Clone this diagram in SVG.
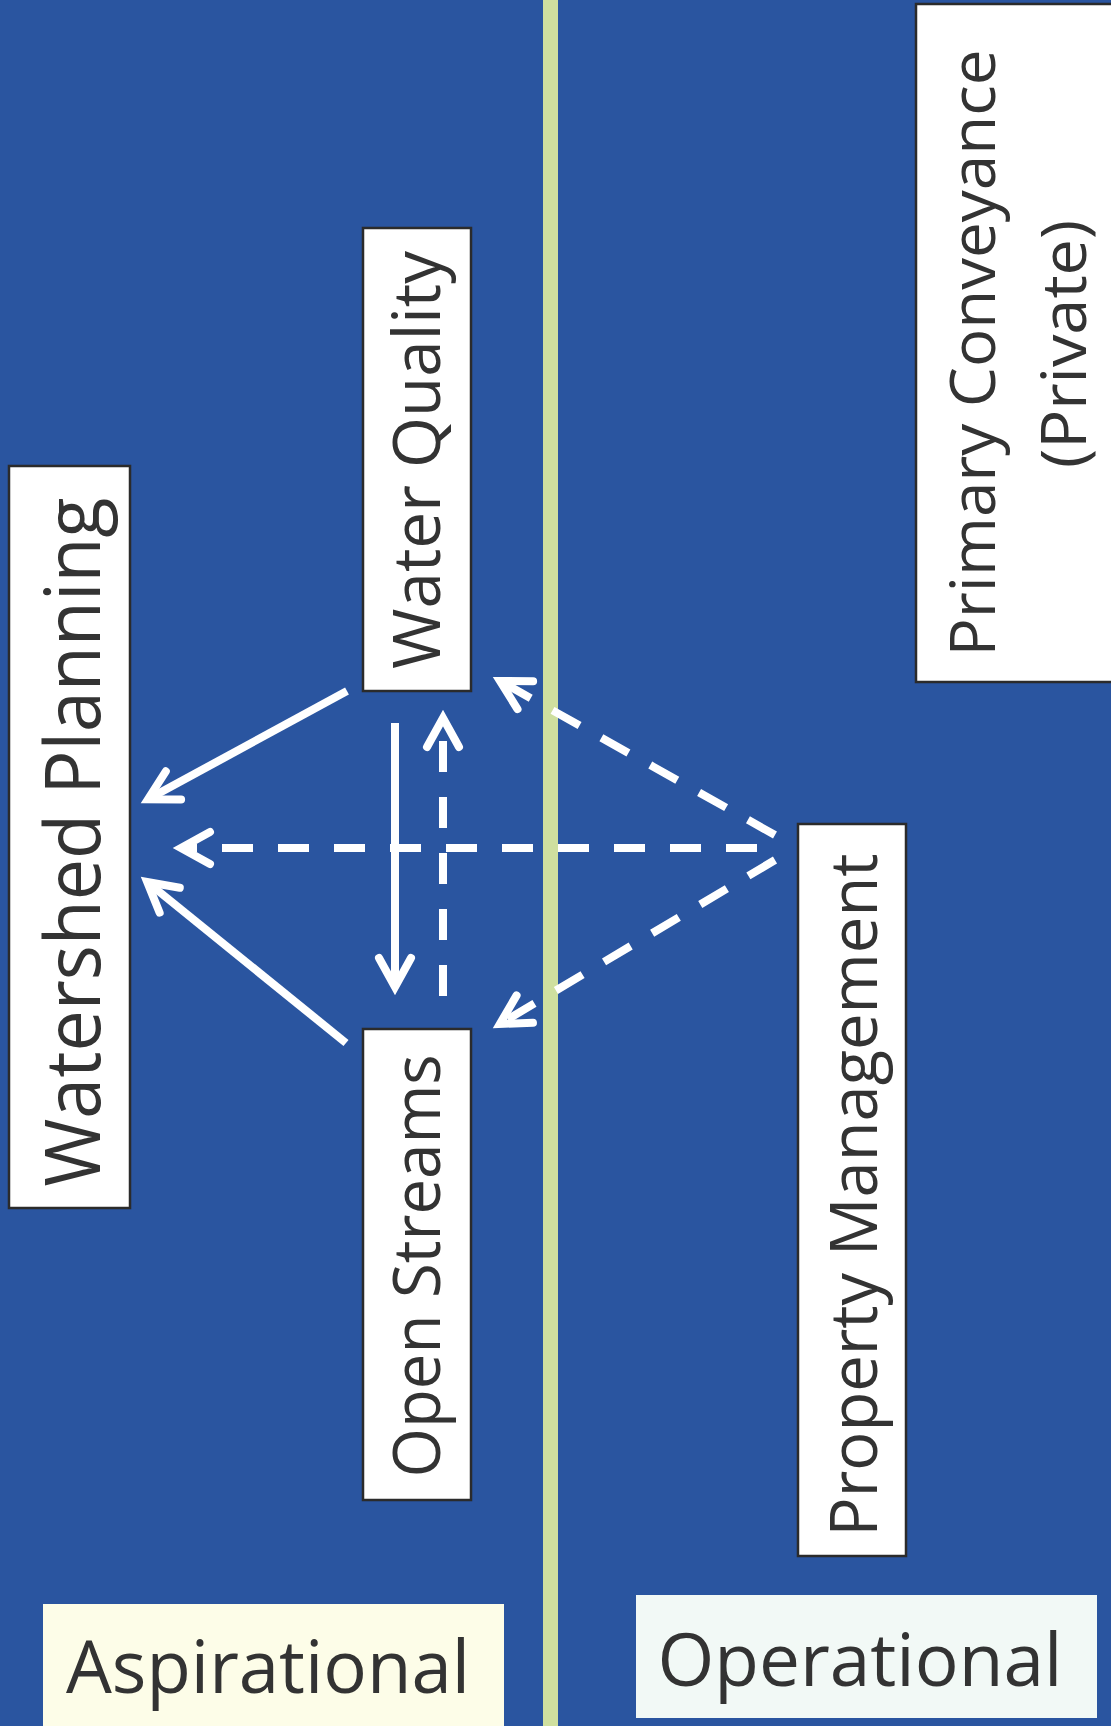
<svg xmlns="http://www.w3.org/2000/svg" width="1111" height="1726" viewBox="0 0 1111 1726">
  <style>
    .bg { fill: #2a55a0; }
    .node rect { fill: #ffffff; stroke: #2b2b2b; stroke-width: 2.5; }
    .lbl { font-family: "Open Sans", "Liberation Sans", sans-serif; fill: #333333; text-anchor: middle; }
    .conn { stroke: #ffffff; stroke-width: 8; fill: none; }
    .dash { stroke-dasharray: 31 25; }
  </style>
  <defs>
    <marker id="arrow" markerUnits="userSpaceOnUse" viewBox="-40 -24 60 48" markerWidth="60" markerHeight="48" refX="0" refY="0" orient="auto" overflow="visible">
      <path d="M-25,-16 L4,0 L-25,16" fill="none" stroke="#ffffff" stroke-width="8" stroke-linecap="round" stroke-linejoin="miter"/>
    </marker>
  </defs>

  <rect class="bg" x="0" y="0" width="1111" height="1726"/>
  <rect x="543" y="0" width="15" height="1726" fill="#cfdf9f"/>

  <g id="connectors">
    <line class="conn" x1="347" y1="691" x2="151.5" y2="797.3" marker-end="url(#arrow)"/>
    <line class="conn" x1="346" y1="1043" x2="150.3" y2="884.5" marker-end="url(#arrow)"/>
    <line class="conn" x1="395" y1="723" x2="395" y2="983" marker-end="url(#arrow)"/>
    <line class="conn dash" x1="443" y1="996" x2="443" y2="722" marker-end="url(#arrow)"/>
    <line class="conn dash" x1="757" y1="848" x2="185" y2="848" marker-end="url(#arrow)"/>
    <line class="conn dash" x1="775" y1="835" x2="503.5" y2="682.9" marker-end="url(#arrow)"/>
    <line class="conn dash" x1="775" y1="860" x2="503.3" y2="1021.9" marker-end="url(#arrow)"/>
  </g>

  <g id="watershed-planning" class="node">
    <rect x="9" y="466" width="121" height="742"/>
    <text class="lbl" font-size="76" transform="translate(100,842) rotate(-90)" textLength="689" lengthAdjust="spacingAndGlyphs">Watershed Planning</text>
  </g>

  <g id="water-quality" class="node">
    <rect x="363" y="228" width="108" height="463"/>
    <text class="lbl" font-size="66" transform="translate(440,460) rotate(-90)" textLength="418" lengthAdjust="spacingAndGlyphs">Water Quality</text>
  </g>

  <g id="open-streams" class="node">
    <rect x="363" y="1029" width="108" height="471"/>
    <text class="lbl" font-size="66" transform="translate(440,1266) rotate(-90)" textLength="423" lengthAdjust="spacingAndGlyphs">Open Streams</text>
  </g>

  <g id="property-management" class="node">
    <rect x="798" y="824" width="108" height="732"/>
    <text class="lbl" font-size="66" transform="translate(877,1195) rotate(-90)" textLength="683" lengthAdjust="spacingAndGlyphs">Property Management</text>
  </g>

  <g id="primary-conveyance" class="node">
    <rect x="916" y="4" width="200" height="678"/>
    <text class="lbl" font-size="63" transform="translate(995,353) rotate(-90)" textLength="607" lengthAdjust="spacingAndGlyphs">Primary Conveyance</text>
    <text class="lbl" font-size="63" transform="translate(1086,344) rotate(-90)" textLength="248" lengthAdjust="spacingAndGlyphs">(Private)</text>
  </g>

  <g id="aspirational">
    <rect x="43" y="1604" width="461" height="130" fill="#fdfde8"/>
    <text class="lbl" font-size="73" x="268" y="1693" textLength="404" lengthAdjust="spacingAndGlyphs">Aspirational</text>
  </g>

  <g id="operational">
    <rect x="636" y="1595" width="461" height="123" fill="#f2f9f6"/>
    <text class="lbl" font-size="73" x="860" y="1686" textLength="405" lengthAdjust="spacingAndGlyphs">Operational</text>
  </g>
</svg>
